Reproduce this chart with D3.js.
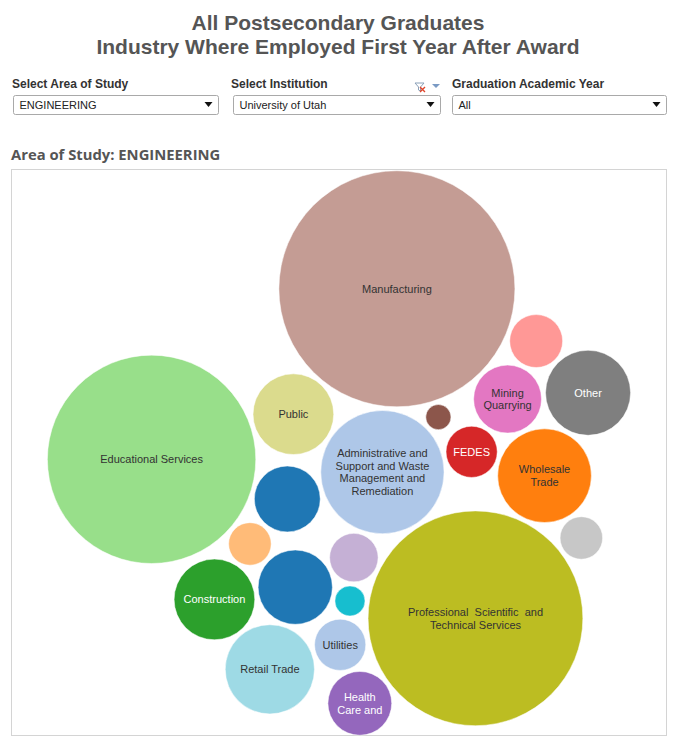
<!DOCTYPE html>
<html><head><meta charset="utf-8">
<script src="https://cdn.jsdelivr.net/npm/d3@7"></script>
<style>
body{margin:0;background:#fff;}
svg{display:block;font-family:"Liberation Sans",Arial,sans-serif;}
</style></head><body>
<svg id="chart" width="676" height="740"></svg>
<script>
// ---------------- data ----------------
const titleLines = ["All Postsecondary Graduates", "Industry Where Employed First Year After Award"];
const filterLabels = ["Select Area of Study", "Select Institution", "Graduation Academic Year"];
const filterValues = ["ENGINEERING", "University of Utah", "All"];
const sheetTitle = "Area of Study: ENGINEERING";

const categories = [
  "Administrative and Support and Waste Management and Remediation",
  "Retail Trade",
  "Finance and Insurance",
  "Professional, Scientific, and Technical Services",
  "Educational Services",
  "Mining, Quarrying, and Oil and Gas Extraction",
  "Health Care and Social Assistance",
  "Public Administration",
  "Wholesale Trade",
  "Construction",
  "Management of Companies and Enterprises",
  "Real Estate and Rental and Leasing",
  "Information",
  "Other Services",
  "Arts, Entertainment, and Recreation",
  "Manufacturing",
  "Private Households",
  "Accommodation and Food Services",
  "FEDES",
  "Utilities",
  "Transportation and Warehousing"
];
const values = [168, 88, 31, 510, 480, 51, 45, 72, 97, 72, 7, 10, 26, 80, 20, 616, 20, 61, 29, 29, 48];
const colors = ["#aec7e8", "#9edae5", "#ff9896", "#bcbd22", "#98df8a", "#e377c2", "#9467bd", "#dbdb8d",
  "#ff7f0e", "#2ca02c", "#8c564b", "#17becf", "#c5b0d5", "#7f7f7f", "#ffbb78", "#c49c94", "#c7c7c7",
  "#1f77b4", "#d62728", "#aec7e8", "#1f77b4"];
const labelLines = [
  ["Administrative and", "Support and Waste", "Management and", "Remediation"],
  ["Retail Trade"],
  [],
  ["Professional  Scientific  and", "Technical Services"],
  ["Educational Services"],
  ["Mining", "Quarrying"],
  ["Health", "Care and"],
  ["Public"],
  ["Wholesale", "Trade"],
  ["Construction"],
  [], [], [],
  ["Other"],
  [],
  ["Manufacturing"],
  [], [],
  ["FEDES"],
  ["Utilities"],
  []
];
const lightLabel = ["FEDES", "Other Services", "Construction", "Health Care and Social Assistance"];
const hubCategory = categories[0];

// ---------------- page ----------------
const svg = d3.select("#chart");
const textDark = "#555555";

svg.append("g").selectAll("text").data(titleLines).join("text")
  .attr("x", 338).attr("y", (d, i) => 30 + i * 23.5)
  .attr("text-anchor", "middle")
  .attr("font-size", 21).attr("font-weight", "bold").attr("fill", textDark)
  .text(d => d);

const filterX = [12, 231, 452];
const boxX = [13.5, 233.5, 452.5];
const boxW = [205, 207, 214];
const fg = svg.append("g");
filterLabels.forEach((lab, i) => {
  fg.append("text").attr("x", filterX[i]).attr("y", 88)
    .attr("font-size", 12).attr("font-weight", "bold").attr("fill", "#333")
    .text(lab);
  fg.append("rect").attr("x", boxX[i]).attr("y", 95.5).attr("width", boxW[i]).attr("height", 19)
    .attr("rx", 2).attr("fill", "#fff").attr("stroke", "#a9a9a9");
  fg.append("text").attr("x", boxX[i] + 6).attr("y", 109)
    .attr("font-size", 11).attr("fill", "#222").text(filterValues[i]);
  const ax = boxX[i] + boxW[i] - 10;
  fg.append("path").attr("d", `M${ax - 4},102 L${ax + 4},102 L${ax},107 Z`).attr("fill", "#111");
});
fg.append("path").attr("d", "M415,83 L424,83 L420.5,87 L420.5,91 L418.5,90 L418.5,87 Z")
  .attr("fill", "none").attr("stroke", "#8aa0b8").attr("stroke-width", 1);
fg.append("path").attr("d", "M420,87 L425,92 M425,87 L420,92").attr("stroke", "#e0452b").attr("stroke-width", 1.4);
fg.append("path").attr("d", "M432,84 L440,84 L436,88 Z").attr("fill", "#7a9ac4");

svg.append("text").attr("x", 11).attr("y", 160)
  .attr("font-family", "'Open Sans', sans-serif")
  .attr("font-size", 14.8).attr("font-weight", "bold").attr("fill", textDark)
  .text(sheetTitle);

const box = {x: 11.5, y: 169.5, w: 655, h: 566};
svg.append("rect").attr("x", box.x).attr("y", box.y).attr("width", box.w).attr("height", box.h)
  .attr("fill", "#fff").attr("stroke", "#d4d4d4");

// ---------------- bubble layout ----------------
const rScale = d3.scaleSqrt().domain([0, d3.max(values)]).range([0, 111]);
const nodes = categories.map((c, i) => ({
  name: c, value: values[i], color: colors[i], lines: labelLines[i], r: rScale(values[i])
}));
const pull = d => d.name === hubCategory ? 0.6 : 0.04;
const sim = d3.forceSimulation(nodes)
  .alphaDecay(0.01)
  .force("x", d3.forceX(0).strength(pull))
  .force("y", d3.forceY(0).strength(pull))
  .force("collide", d3.forceCollide(d => d.r + 2).strength(0.9).iterations(4))
  .stop();
for (let i = 0; i < 900; i++) sim.tick();

const x0 = d3.min(nodes, d => d.x - d.r), x1 = d3.max(nodes, d => d.x + d.r);
const y0 = d3.min(nodes, d => d.y - d.r), y1 = d3.max(nodes, d => d.y + d.r);
const s = Math.min((box.w - 4) / (x1 - x0), (box.h - 1.5) / (y1 - y0));
const xs = d3.scaleLinear().domain([(x0 + x1) / 2 - 1, (x0 + x1) / 2 + 1])
  .range([box.x + box.w / 2 - s, box.x + box.w / 2 + s]);
const ys = d3.scaleLinear().domain([(y0 + y1) / 2 - 1, (y0 + y1) / 2 + 1])
  .range([box.y + box.h / 2 - s + 0.5, box.y + box.h / 2 + s + 0.5]);

const g = svg.append("g");
const bub = g.selectAll("g.bubble").data(nodes).join("g").attr("class", "bubble")
  .attr("transform", d => `translate(${xs(d.x)},${ys(d.y)})`);
bub.append("circle").attr("r", d => d.r * s)
  .attr("fill", d => d.color).attr("stroke", "#fff").attr("stroke-opacity", 0.5).attr("stroke-width", 1);
bub.append("title").text(d => `${d.name}: ${d.value}`);
bub.each(function (d) {
  const n = d.lines.length;
  d3.select(this).selectAll("text").data(d.lines).join("text")
    .attr("text-anchor", "middle")
    .attr("y", (t, k) => (k - (n - 1) / 2) * 12.8)
    .attr("dy", "0.36em")
    .attr("font-size", 11)
    .attr("fill", lightLabel.includes(d.name) ? "#fff" : "#333")
    .style("white-space", "pre")
    .text(t => t);
});
</script>
</body></html>
